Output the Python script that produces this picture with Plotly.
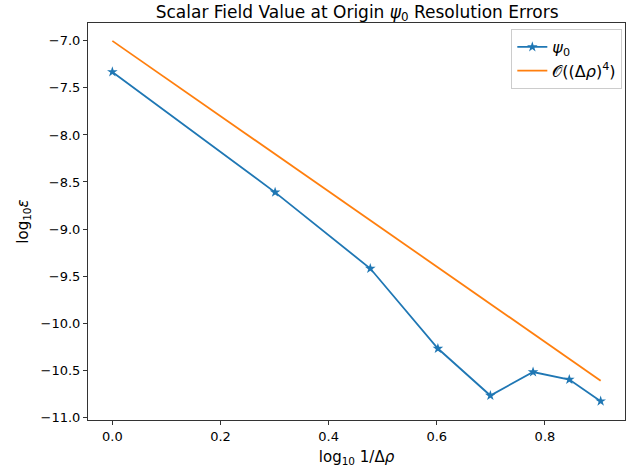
import plotly.graph_objects as go

x_vals = [0.0, 0.301, 0.477, 0.602, 0.699, 0.778, 0.845, 0.903]
psi0_err = [-7.33, -8.61, -9.42, -10.27, -10.77, -10.52, -10.60, -10.83]
order4_ref = [-7.0, -8.204, -8.908, -9.408, -9.796, -10.112, -10.380, -10.612]
x_ticks = [0.0, 0.2, 0.4, 0.6, 0.8]
y_ticks = [-7.0, -7.5, -8.0, -8.5, -9.0, -9.5, -10.0, -10.5, -11.0]

font = "DejaVu Sans"
fig = go.Figure()
fig.add_trace(go.Scatter(
    x=x_vals, y=psi0_err, mode="lines+markers", name="<i>ψ</i><sub>0</sub>",
    line=dict(color="#1f77b4", width=1.8),
    marker=dict(symbol="star", size=8, color="#1f77b4"),
))
fig.add_trace(go.Scatter(
    x=[x_vals[0], x_vals[-1]], y=[order4_ref[0], order4_ref[-1]], mode="lines",
    name="𝒪((Δ<i>ρ</i>)<sup>4</sup>)",
    line=dict(color="#ff7f0e", width=1.8),
))

axis_common = dict(
    showgrid=False, zeroline=False, showline=True, linecolor="#333333", linewidth=1,
    mirror=True, ticks="outside", ticklen=4, tickcolor="#333333",
    tickfont=dict(family=font, size=13, color="black"),
)
fig.update_xaxes(range=[-0.045, 0.948], tickvals=x_ticks,
                 ticktext=[f"{v:.1f}" for v in x_ticks],
                 title=dict(text="log<sub>10</sub> 1/Δ<i>ρ</i>", font=dict(family=font, size=15, color="black"), standoff=8),
                 **axis_common)
fig.update_yaxes(range=[-11.03, -6.81], tickvals=y_ticks,
                 ticktext=[f"{v:.1f}".replace("-", "−") for v in y_ticks],
                 title=dict(text="log<sub>10</sub><i>ε</i>", font=dict(family=font, size=15, color="black"), standoff=8),
                 **axis_common)
fig.update_layout(
    width=640, height=474,
    margin=dict(l=88, r=15, t=23, b=54),
    plot_bgcolor="white", paper_bgcolor="white",
    title=dict(text="Scalar Field Value at Origin <i>ψ</i><sub>0</sub> Resolution Errors",
               x=0.558, xanchor="center", y=0.988, yanchor="top",
               font=dict(family=font, size=17, color="black")),
    legend=dict(x=0.995, xanchor="right", y=0.985, yanchor="top",
                bordercolor="#cccccc", borderwidth=1, bgcolor="white",
                tracegroupgap=6,
                font=dict(family=font, size=16, color="black")),
    font=dict(family=font),
)
fig.write_html("out.html")
